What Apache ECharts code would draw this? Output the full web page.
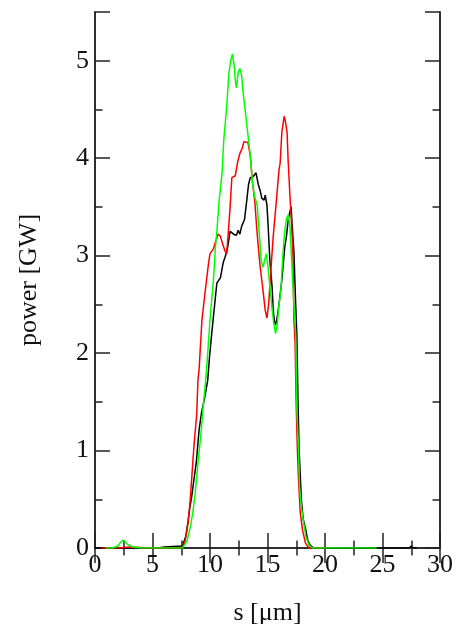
<!DOCTYPE html>
<html>
<head>
<meta charset="utf-8">
<script src="https://cdn.jsdelivr.net/npm/echarts@6/dist/echarts.min.js"></script>
<style>
  html, body { margin: 0; padding: 0; background: #fff; }
  #chart { width: 458px; height: 624px; }
</style>
</head>
<body>
<div id="chart"></div>
<script>
// Pulse power profiles along the bunch coordinate s.
const xTicks = [0, 5, 10, 15, 20, 25, 30];
const yTicks = [0, 1, 2, 3, 4, 5];

const sBlack = [0, 5.5, 6.0, 7.6, 7.9, 8.1, 8.25, 8.4, 8.6, 8.8, 9.05, 9.25, 9.5, 9.65, 9.8, 9.95, 10.15, 10.45, 10.6, 10.9, 11.15, 11.3, 11.5, 11.75, 11.9, 12.05, 12.3, 12.45, 12.6, 12.75, 12.9, 13.0, 13.2, 13.35, 13.5, 13.75, 14.0, 14.2, 14.4, 14.5, 14.7, 14.8, 14.95, 15.05, 15.2, 15.4, 15.5, 15.6, 15.7, 15.8, 15.9, 16.05, 16.25, 16.4, 16.5, 16.65, 16.8, 16.95, 17.05, 17.15, 17.3, 17.45, 17.55, 17.65, 17.75, 17.95, 18.1, 18.3, 18.5, 18.7, 19.0, 22.0, 27.3, 27.5, 27.7, 28.0];
const pBlack = [0, 0, 0.01, 0.02, 0.12, 0.28, 0.42, 0.52, 0.7, 0.87, 1.21, 1.38, 1.52, 1.62, 1.72, 1.95, 2.2, 2.55, 2.72, 2.77, 2.93, 2.98, 3.06, 3.25, 3.27, 3.22, 3.21, 3.26, 3.22, 3.3, 3.32, 3.37, 3.57, 3.73, 3.8, 3.81, 3.85, 3.73, 3.65, 3.59, 3.57, 3.62, 3.52, 3.32, 2.96, 2.68, 2.44, 2.33, 2.29, 2.34, 2.41, 2.55, 2.75, 2.95, 3.09, 3.2, 3.37, 3.45, 3.5, 3.3, 3.03, 2.5, 2.2, 1.52, 1.0, 0.49, 0.3, 0.2, 0.08, 0.03, 0, 0, 0, 0.02, 0, 0];

const sRed = [0.5, 2.0, 3.0, 5.0, 7.0, 7.6, 7.85, 8.1, 8.25, 8.4, 8.6, 8.85, 8.95, 9.05, 9.3, 9.5, 9.7, 9.85, 10.0, 10.3, 10.5, 10.7, 10.9, 11.1, 11.3, 11.45, 11.6, 11.75, 11.9, 12.05, 12.2, 12.4, 12.6, 12.8, 12.95, 13.1, 13.3, 13.5, 13.7, 13.9, 14.05, 14.2, 14.35, 14.5, 14.65, 14.8, 14.95, 15.1, 15.2, 15.35, 15.5, 15.65, 15.8, 16.0, 16.1, 16.25, 16.45, 16.55, 16.7, 16.8, 16.95, 17.1, 17.2, 17.3, 17.4, 17.5, 17.6, 17.7, 17.85, 18.05, 18.3, 18.6, 20.0];
const pRed = [0, 0, 0.01, 0, 0, 0, 0.08, 0.26, 0.45, 0.7, 1.04, 1.38, 1.72, 1.83, 2.34, 2.55, 2.75, 2.9, 3.02, 3.07, 3.15, 3.22, 3.2, 3.12, 3.05, 3.02, 3.25, 3.5, 3.8, 3.78, 3.82, 3.96, 4.05, 4.1, 4.17, 4.18, 4.16, 4.03, 3.75, 3.55, 3.3, 3.09, 2.9, 2.75, 2.6, 2.44, 2.36, 2.5, 2.68, 2.95, 3.2, 3.4, 3.6, 3.88, 3.95, 4.27, 4.43, 4.38, 4.27, 3.96, 3.62, 3.3, 3.06, 2.35, 2.1, 1.45, 1.0, 0.7, 0.36, 0.18, 0.05, 0, 0];

const sGreen = [0.9, 1.5, 2.0, 2.3, 2.5, 2.8, 3.3, 4.0, 5.0, 6.0, 7.0, 7.6, 8.0, 8.3, 8.5, 8.7, 8.95, 9.2, 9.4, 9.55, 9.7, 9.85, 10.0, 10.15, 10.3, 10.45, 10.6, 10.8, 11.05, 11.2, 11.45, 11.65, 11.8, 11.95, 12.1, 12.2, 12.3, 12.45, 12.6, 12.75, 12.9, 13.1, 13.3, 13.5, 13.7, 13.9, 14.1, 14.3, 14.45, 14.6, 14.75, 14.9, 15.05, 15.2, 15.4, 15.55, 15.7, 15.85, 16.0, 16.15, 16.35, 16.5, 16.65, 16.8, 16.95, 17.1, 17.3, 17.45, 17.55, 17.7, 17.8, 17.95, 18.1, 18.35, 18.6, 18.9, 20.0, 23.5, 24.5];
const pGreen = [0, 0, 0.02, 0.07, 0.08, 0.04, 0.01, 0, 0, 0, 0, 0, 0.07, 0.22, 0.36, 0.55, 0.87, 1.15, 1.45, 1.62, 1.83, 2.08, 2.34, 2.55, 2.75, 3.05, 3.25, 3.57, 3.85, 4.19, 4.53, 4.88, 5.0, 5.07, 4.95, 4.8, 4.72, 4.88, 4.92, 4.85, 4.65, 4.45, 4.24, 4.03, 3.73, 3.6, 3.52, 3.2, 2.95, 2.88, 2.95, 3.02, 2.88, 2.7, 2.45, 2.3, 2.2, 2.3, 2.5, 2.62, 3.03, 3.25, 3.38, 3.42, 3.3, 2.95, 2.5, 2.2, 1.45, 1.0, 0.6, 0.42, 0.29, 0.11, 0.03, 0, 0, 0, 0];

const pairs = (xs, ys) => xs.map((x, i) => [x, ys[i]]);

const FONT = 'Liberation Serif';
const frame = { show: true, lineStyle: { color: '#222', width: 1.5 } };
const labelStyle = { color: '#111', fontFamily: FONT, fontSize: 26 };

function xAxisDef(position, showLabels) {
  return {
    type: 'value', position: position, min: 0, max: 30, interval: 5,
    axisLine: frame,
    axisTick: { show: true, inside: true, length: 15, lineStyle: { color: '#222', width: 1.5 } },
    minorTick: { show: true, splitNumber: 2, length: 7.5, lineStyle: { color: '#222', width: 1.5 } },
    splitLine: { show: false }, minorSplitLine: { show: false },
    axisLabel: showLabels
      ? Object.assign({ show: true, margin: 4, formatter: v => xTicks.includes(v) ? String(v) : '' }, labelStyle)
      : { show: false },
    name: showLabels ? 's [\u03bcm]' : '',
    nameLocation: 'middle', nameGap: 52,
    nameTextStyle: { color: '#111', fontFamily: FONT, fontSize: 26 }
  };
}

function yAxisDef(position, interval, tickLen, showLabels) {
  return {
    type: 'value', position: position, min: 0, max: 5.5, interval: interval,
    axisLine: frame,
    axisTick: { show: true, inside: true, length: tickLen, lineStyle: { color: '#222', width: 1.5 } },
    splitLine: { show: false },
    axisLabel: showLabels
      ? Object.assign({ show: true, margin: 6, formatter: v => yTicks.includes(v) ? String(v) : '' }, labelStyle)
      : { show: false },
    name: showLabels ? 'power [GW]' : '',
    nameLocation: 'middle', nameGap: 53,
    nameTextStyle: { color: '#111', fontFamily: FONT, fontSize: 26 }
  };
}

const lineSeries = (name, xs, ys, color) => ({
  name: name, type: 'line', xAxisIndex: 0, yAxisIndex: 0,
  data: pairs(xs, ys), showSymbol: false, symbol: 'none',
  lineStyle: { color: color, width: 1.5 }, animation: false
});

const chart = echarts.init(document.getElementById('chart'), null, { renderer: 'canvas' });
chart.setOption({
  backgroundColor: '#fff',
  animation: false,
  grid: { left: 95, right: 18, top: 12, bottom: 76, containLabel: false, outerBoundsMode: 'none' },
  xAxis: [xAxisDef('bottom', true), xAxisDef('top', false)],
  yAxis: [
    yAxisDef('left', 1, 15, true),
    yAxisDef('left', 0.5, 7.5, false),
    yAxisDef('right', 1, 15, false),
    yAxisDef('right', 0.5, 7.5, false)
  ],
  series: [
    lineSeries('black', sBlack, pBlack, '#000000'),
    lineSeries('red', sRed, pRed, '#ff0000'),
    lineSeries('green', sGreen, pGreen, '#00ff00')
  ]
});
</script>
</body>
</html>
